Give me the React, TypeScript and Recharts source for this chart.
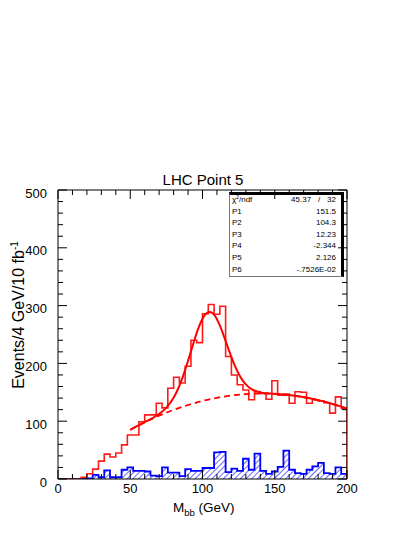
import React from "react";
import { ComposedChart, Line, Area, XAxis, YAxis } from "recharts";

const FONT = '"Liberation Sans", Arial, Helvetica, sans-serif';

// histogram bins: 4 GeV wide, 0..200
const binLow = [
  0, 4, 8, 12, 16, 20, 24, 28, 32, 36, 40, 44, 48, 52, 56, 60, 64, 68, 72, 76,
  80, 84, 88, 92, 96, 100, 104, 108, 112, 116, 120, 124, 128, 132, 136, 140,
  144, 148, 152, 156, 160, 164, 168, 172, 176, 180, 184, 188, 192, 196,
];
const totalCounts = [
  0, 0, 0, 0, 3, 9, 17, 31, 43, 38, 45, 59, 76, 76, 99, 111, 111, 131, 123, 157,
  176, 166, 195, 240, 236, 286, 302, 285, 299, 212, 180, 163, 154, 137, 151, 148,
  138, 170, 145, 147, 131, 151, 150, 131, 137, 135, 132, 114, 142, 122,
];
const bkgCounts = [
  0, 0, 0, 0, 0, 1, 7, 3, 15, 3, 3, 16, 20, 14, 14, 13, 6, 5, 20, 11,
  11, 5, 17, 14, 14, 19, 19, 46, 47, 12, 18, 14, 35, 16, 44, 14, 9, 13, 21, 49,
  16, 10, 9, 16, 22, 28, 10, 9, 20, 9,
];

// fitted curve (solid) and its smooth background part (dashed)
const fitX = [
  50, 55, 60, 65, 70, 75, 80, 82.5, 85, 87.5, 90, 92.5, 95, 97.5, 100, 102.5, 105,
  107.5, 110, 112.5, 115, 117.5, 120, 122.5, 125, 127.5, 130, 132.5, 135, 140, 145,
  150, 155, 160, 165, 170, 175, 180, 185, 190, 195, 200,
];
const fitY = [
  85.1, 91.9, 98.3, 104.9, 112.6, 123.4, 140.7, 152.7, 167.6, 185.0, 204.5, 225.0,
  245.2, 263.2, 277.4, 286.4, 289.1, 285.6, 276.4, 262.6, 245.9, 228.2, 210.9, 195.2,
  182.0, 171.5, 163.6, 157.8, 154.0, 149.9, 148.3, 147.3, 146.4, 145.2, 143.6, 141.6,
  139.2, 136.5, 133.4, 129.9, 126.1, 121.8,
];
const bgX = [50, 60, 70, 80, 90, 100, 110, 120, 130, 140, 150, 160, 170, 180, 190, 200];
const bgY = [
  85.1, 98.1, 109.6, 119.6, 128.0, 135.0, 140.5, 144.4, 146.9, 147.8, 147.2, 145.2,
  141.6, 136.5, 129.9, 121.8,
];

const xTicks = [0, 10, 20, 30, 40, 50, 60, 70, 80, 90, 100, 110, 120, 130, 140, 150, 160, 170, 180, 190, 200];
const yTicks = [
  0, 20, 40, 60, 80, 100, 120, 140, 160, 180, 200, 220, 240, 260, 280, 300, 320,
  340, 360, 380, 400, 420, 440, 460, 480, 500,
];

const statNames = ["P1", "P2", "P3", "P4", "P5", "P6"];
const statValues = ["151.5", "104.3", "12.23", "-2.344", "2.126", "-.7526E-02"];
const chi2 = "45.37";
const ndf = "32";

const histData = [
  ...binLow.map((x, i) => ({ x, tot: totalCounts[i], bkg: bkgCounts[i] })),
  { x: 200, tot: totalCounts[totalCounts.length - 1], bkg: bkgCounts[bkgCounts.length - 1] },
  { x: 200, tot: 0, bkg: 0 },
];
const fitData = fitX.map((x, i) => ({ x, y: fitY[i] }));
const bgData = bgX.map((x, i) => ({ x, y: bgY[i] }));

function BottomTick({ x, y, payload }: any) {
  const major = payload.value % 50 === 0;
  return (
    <g>
      <line x1={x} x2={x} y1={y} y2={y - (major ? 9 : 5)} stroke="#000" />
      {major && (
        <text x={x} y={y + 14} textAnchor="middle" fontSize={13} fill="#000">
          {payload.value}
        </text>
      )}
    </g>
  );
}

function TopTick({ x, y, payload }: any) {
  const major = payload.value % 50 === 0;
  return <line x1={x} x2={x} y1={y} y2={y + (major ? 9 : 5)} stroke="#000" />;
}

function LeftTick({ x, y, payload }: any) {
  const major = payload.value % 100 === 0;
  return (
    <g>
      <line x1={x} x2={x + (major ? 9 : 5)} y1={y} y2={y} stroke="#000" />
      {major && (
        <text x={x - 11} y={y + 7.5} textAnchor="end" fontSize={13} fill="#000">
          {payload.value}
        </text>
      )}
    </g>
  );
}

function RightTick({ x, y, payload }: any) {
  const major = payload.value % 100 === 0;
  return <line x1={x} x2={x - (major ? 9 : 5)} y1={y} y2={y} stroke="#000" />;
}

function StatBox() {
  const row = (top: number, left: React.ReactNode, right: React.ReactNode, key: string) => (
    <div key={key} style={{ position: "absolute", left: 2, right: 5, top, height: 10, lineHeight: "10px", fontSize: 8 }}>
      <span style={{ position: "absolute", left: 0, whiteSpace: "nowrap" }}>{left}</span>
      <span style={{ position: "absolute", right: 0, whiteSpace: "nowrap" }}>{right}</span>
    </div>
  );
  return (
    <div
      style={{
        position: "absolute", left: 229, top: 192, width: 115, height: 85, boxSizing: "border-box",
        borderTop: "3px solid #000", borderRight: "3px solid #000",
        borderLeft: "1px solid #777", borderBottom: "1px solid #777", background: "#fff",
      }}
    >
      {row(
        0,
        <span>χ<sup style={{ fontSize: 5, verticalAlign: "3px", lineHeight: 0 }}>2</sup>/ndf</span>,
        <span>{chi2}<span style={{ display: "inline-block", width: 16, textAlign: "center" }}>/</span>{ndf}</span>,
        "chi"
      )}
      {statNames.map((n, i) => row(11.6 * (i + 1), n, statValues[i], n))}
    </div>
  );
}

export default function App() {
  return (
    <div style={{ position: "absolute", left: 0, top: 0, width: 415, height: 537, background: "#fff", fontFamily: FONT, color: "#000" }}>
      <StatBox />
      <svg width={0} height={0} style={{ position: "absolute" }}>
        <defs>
          <pattern id="blueHatch" patternUnits="userSpaceOnUse" width={4} height={4} patternTransform="rotate(45)">
            <rect x={0} y={0} width={4} height={4} fill="#ffffff" />
            <rect x={0} y={0} width={1} height={4} fill="#6b6bff" />
          </pattern>
        </defs>
      </svg>
      <div style={{ position: "absolute", left: 0, top: 0 }}>
        <ComposedChart width={415} height={537} data={histData} margin={{ top: 189, right: 67, bottom: 57, left: 57 }}>
          <text x={203} y={185} textAnchor="middle" fontSize={15} fill="#000">LHC Point 5</text>
          <text transform="rotate(-90)" x={-315} y={24} textAnchor="middle" fontSize={16} fill="#000">
            Events/4 GeV/10 fb<tspan dy={-6} fontSize={10}>-1</tspan>
          </text>
          <text x={173} y={512} fontSize={13.5} fill="#000">
            M<tspan fontSize={9.5} dy={4}>bb</tspan><tspan dy={-4}> (GeV)</tspan>
          </text>
          <XAxis xAxisId="b" dataKey="x" type="number" domain={[0, 200]} allowDataOverflow ticks={xTicks} interval={0}
            height={1} tickSize={0} tickMargin={0} tickLine={false} tick={<BottomTick />} axisLine={{ stroke: "#000" }} />
          <XAxis xAxisId="t" orientation="top" dataKey="x" type="number" domain={[0, 200]} allowDataOverflow ticks={xTicks} interval={0}
            height={1} tickSize={0} tickMargin={0} tickLine={false} tick={<TopTick />} axisLine={{ stroke: "#000" }} />
          <YAxis yAxisId="l" type="number" domain={[0, 500]} allowDataOverflow ticks={yTicks} interval={0}
            width={1} tickSize={0} tickMargin={0} tickLine={false} tick={<LeftTick />} axisLine={{ stroke: "#000" }} />
          <YAxis yAxisId="r" orientation="right" type="number" domain={[0, 500]} allowDataOverflow ticks={yTicks} interval={0}
            width={1} tickSize={0} tickMargin={0} tickLine={false} tick={<RightTick />} axisLine={{ stroke: "#000" }} />
          <Line xAxisId="b" yAxisId="l" type="stepAfter" dataKey="tot" stroke="#ff1a1a" strokeWidth={1.6}
            dot={false} activeDot={false} isAnimationActive={false} />
          <Area xAxisId="b" yAxisId="l" type="stepAfter" dataKey="bkg" stroke="#0000ff" strokeWidth={1.8}
            fill="url(#blueHatch)" fillOpacity={1} dot={false} activeDot={false} isAnimationActive={false} />
          <Line xAxisId="t" yAxisId="r" data={bgData} dataKey="y" type="monotone" stroke="#ff0000" strokeWidth={1.8}
            strokeDasharray="6 4" dot={false} activeDot={false} isAnimationActive={false} />
          <Line xAxisId="b" yAxisId="l" data={fitData} dataKey="y" type="monotone" stroke="#ff0000" strokeWidth={2}
            dot={false} activeDot={false} isAnimationActive={false} />
        </ComposedChart>
      </div>
    </div>
  );
}
